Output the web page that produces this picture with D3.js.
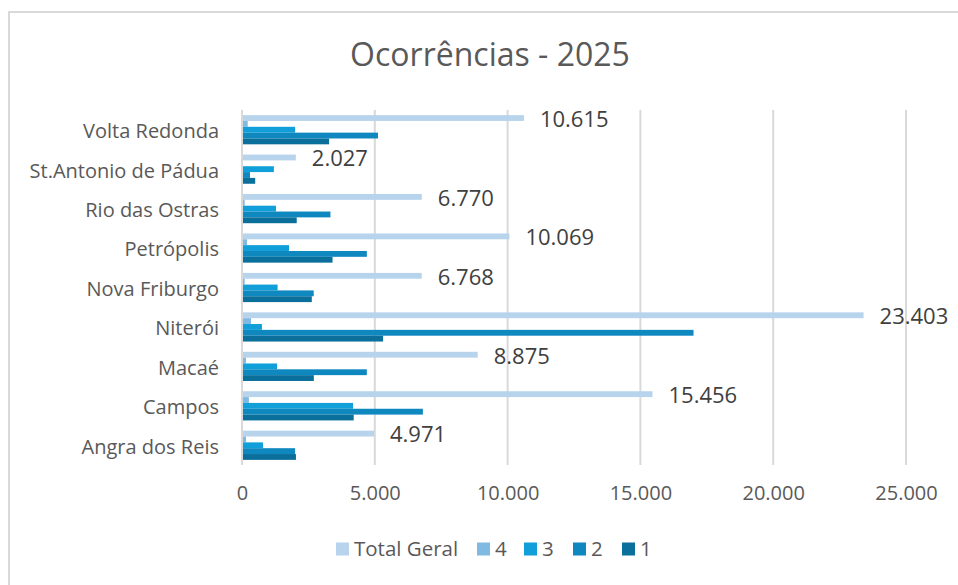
<!DOCTYPE html>
<html>
<head>
<meta charset="utf-8">
<script src="https://cdn.jsdelivr.net/npm/d3@7"></script>
<style>
  body { margin: 0; background: #fff; }
  svg { font-family: "Open Sans", Roboto, sans-serif; }
</style>
</head>
<body>
<svg id="chart" width="958" height="585"></svg>
<script>
const cities = ["Volta Redonda", "St.Antonio de Pádua", "Rio das Ostras", "Petrópolis",
  "Nova Friburgo", "Niterói", "Macaé", "Campos", "Angra dos Reis"];
const seriesNames = ["Total Geral", "4", "3", "2", "1"];
const totalGeral = [10615, 2027, 6770, 10069, 6768, 23403, 8875, 15456, 4971];
const s4 = [215, 30, 100, 190, 100, 340, 150, 260, 150];
const s3 = [2000, 1200, 1280, 1770, 1340, 750, 1320, 4180, 790];
const s2 = [5120, 300, 3330, 4700, 2700, 17000, 4700, 6810, 2000];
const s1 = [3280, 497, 2060, 3409, 2628, 5313, 2705, 4206, 2031];
const xTicks = [0, 5000, 10000, 15000, 20000, 25000];
const colors = ["#b8d4ec", "#80b9e2", "#119fd9", "#0e88bf", "#0b6f9c"];

const seriesValues = [totalGeral, s4, s3, s2, s1];
const fmt = d3.formatLocale({decimal: ",", thousands: ".", grouping: [3], currency: ["", ""]}).format(",d");

const svg = d3.select("#chart");

// chart border
svg.append("rect")
    .attr("x", 9).attr("y", 12)
    .attr("width", 960).attr("height", 600)
    .attr("fill", "none")
    .attr("stroke", "#d9d9d9")
    .attr("stroke-width", 2);

svg.append("text")
    .attr("x", 490).attr("y", 66)
    .attr("text-anchor", "middle")
    .attr("fill", "#595959")
    .style("font-size", "32px")
    .text("Ocorrências - 2025");

const x = d3.scaleLinear().domain([0, 25000]).range([242, 906]);
const y = d3.scaleBand().domain(cities).range([110, 465]).paddingInner(0.26).paddingOuter(0.13);
const ySub = d3.scaleBand().domain(seriesNames).range([0, y.bandwidth()]);

// gridlines
svg.append("g").selectAll("line")
    .data(xTicks.slice(1))
    .join("line")
    .attr("x1", d => x(d)).attr("x2", d => x(d))
    .attr("y1", 110).attr("y2", 465)
    .attr("stroke", "#d9d9d9")
    .attr("stroke-width", 2);

// x axis labels
const xAxis = svg.append("g")
    .attr("transform", "translate(0,465)")
    .call(d3.axisBottom(x).tickValues(xTicks).tickFormat(fmt).tickSize(0).tickPadding(21));
xAxis.select(".domain").remove();
xAxis.selectAll("text")
    .attr("fill", "#595959")
    .style("font-size", "20px")
    .style("font-family", "'Open Sans', sans-serif");

// y axis labels
const yAxis = svg.append("g")
    .attr("transform", "translate(242,0)")
    .call(d3.axisLeft(y).tickSize(0).tickPadding(23));
yAxis.select(".domain").remove();
yAxis.selectAll("text")
    .attr("fill", "#595959")
    .attr("dy", "0.42em")
    .style("font-size", "20px")
    .style("font-family", "'Open Sans', sans-serif");

// bars
const groups = svg.append("g").selectAll("g")
    .data(cities)
    .join("g")
    .attr("transform", d => `translate(0,${y(d)})`);

groups.selectAll("rect")
    .data((c, i) => seriesNames.map((s, j) => ({series: s, value: seriesValues[j][i], color: colors[j]})))
    .join("rect")
    .attr("x", x(0))
    .attr("y", d => ySub(d.series))
    .attr("width", d => x(d.value) - x(0))
    .attr("height", ySub.bandwidth())
    .attr("fill", d => d.color);

// data labels for Total Geral
svg.append("g").selectAll("text")
    .data(cities)
    .join("text")
    .attr("x", (d, i) => x(totalGeral[i]) + 16)
    .attr("y", d => y(d) + ySub("Total Geral") + ySub.bandwidth() / 2)
    .attr("dy", "0.4em")
    .attr("fill", "#404040")
    .style("font-size", "22px")
    .text((d, i) => fmt(totalGeral[i]));

// zero axis line
svg.append("line")
    .attr("x1", x(0)).attr("x2", x(0))
    .attr("y1", 110).attr("y2", 465)
    .attr("stroke", "#d9d9d9")
    .attr("stroke-width", 2);

// legend
const legendX = [336, 477, 524, 573, 622];
const legend = svg.append("g").selectAll("g")
    .data(seriesNames)
    .join("g")
    .attr("transform", (d, i) => `translate(${legendX[i]},549)`);
legend.append("rect")
    .attr("x", 0).attr("y", -6.5)
    .attr("width", 13).attr("height", 13)
    .attr("fill", (d, i) => colors[i]);
legend.append("text")
    .attr("x", 18).attr("y", 0)
    .attr("dy", "0.36em")
    .attr("fill", "#595959")
    .style("font-size", "20.5px")
    .text(d => d);
</script>
</body>
</html>
